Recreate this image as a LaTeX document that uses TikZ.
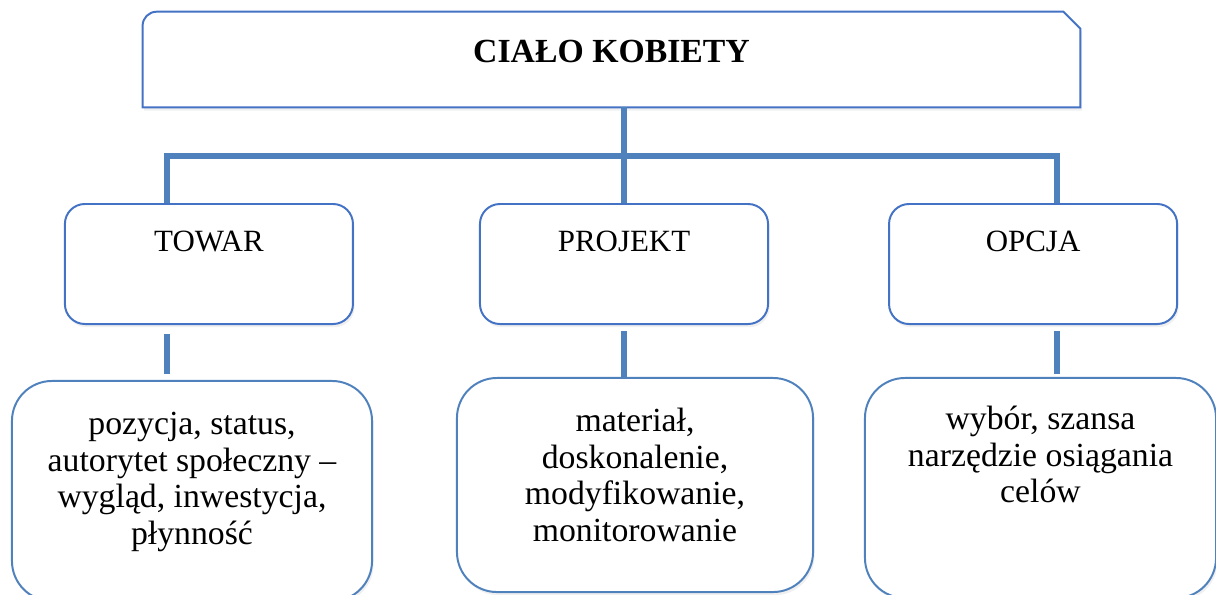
\documentclass[tikz,border=0pt]{standalone}
\usepackage{fontspec}
\setmainfont{Liberation Serif}
\usetikzlibrary{positioning, calc, shadows}
\definecolor{boxblue}{RGB}{68, 114, 196}
\definecolor{lineblue}{RGB}{79, 129, 189}
\tikzset{
  softshadow/.style={drop shadow={opacity=0.12, shadow xshift=0.04cm, shadow yshift=-0.08cm}},
  headblock/.style={rectangle, minimum width=23.425cm, minimum height=2.375cm, inner sep=0},
  headframe/.style={draw=boxblue, line width=1.4pt, fill=white, softshadow},
  midblock/.style={
    rectangle, rounded corners=0.5cm, draw=boxblue, line width=1.4pt, fill=white,
    softshadow, minimum width=7.2cm, minimum height=3cm, inner sep=0
  },
  leafblock/.style={
    rectangle, rounded corners=1cm, draw=lineblue, line width=1.4pt, fill=white,
    softshadow, inner sep=0
  },
  headtext/.style={font=\fontsize{24}{28}\selectfont\bfseries, anchor=base, inner sep=0},
  midtext/.style={font=\fontsize{22}{26}\selectfont, anchor=base, inner sep=0},
  leaftext/.style={font=\fontsize{24}{26.1}\selectfont, align=center, anchor=north, inner sep=0},
  linkline/.style={draw=lineblue, line width=4.3pt}
}
\begin{document}
\begin{tikzpicture}[x=0.025cm, y=0.025cm]
  \useasboundingbox (0,0) rectangle (1216,-594);

  % Top: whole body
  \node[headblock] (body) at (611.5,-59.5) {};
  \draw[headframe] (body.south west) -- ($(body.north west)+(0,-14)$)
    arc[start angle=180, end angle=90, radius=0.35cm]
    -- ($(body.north east)+(-17,0)$) -- ($(body.north east)+(0,-17)$)
    -- (body.south east) -- cycle;
  \node[headtext] (title) at ([yshift=-1.275cm]body.north) {CIAŁO KOBIETY};

  % Middle row
  \node[midblock] (projekt) at (624,-264) {};
  \node[midblock, left=3.125cm of projekt] (towar) {};
  \node[midblock, right=2.975cm of projekt] (opcja) {};
  \node[midtext] (towarlabel) at ([yshift=-1.2cm]towar.north) {TOWAR};
  \node[midtext] (projektlabel) at ([yshift=-1.2cm]projekt.north) {PROJEKT};
  \node[midtext] (opcjalabel) at ([yshift=-1.2cm]opcja.north) {OPCJA};

  % Bottom row
  \node[leafblock, minimum width=9cm, minimum height=5.5cm] (pozycja) at (192,-491) {};
  \node[leafblock, minimum width=8.9cm, minimum height=5.35cm] (material) at (635,-485) {};
  \node[leafblock, minimum width=8.775cm, minimum height=5.5cm] (wybor) at (1040.5,-488) {};
  \node[leaftext] (pozycjatext) at ([yshift=-0.71cm]pozycja.north)
    {\strut pozycja, status,\\ autorytet społeczny –\\ wygląd, inwestycja,\\ płynność};
  \node[leaftext] (materialtext) at ([yshift=-0.71cm]material.north)
    {\strut materiał,\\ doskonalenie,\\ modyfikowanie,\\ monitorowanie};
  \node[leaftext] (wybortext) at ([yshift=-0.66cm]wybor.north)
    {\strut wybór, szansa\\ narzędzie osiągania\\ celów};

  % Connectors
  \coordinate (busL) at (167,-156);
  \coordinate (busR) at (1057,-156);
  \draw[linkline] (body.south -| projekt.north) -- (projekt.north);
  \draw[linkline] (towar.north -| busL) -- (busL) -- (busR) -- (opcja.north -| busR);
  \draw[linkline, shorten <=0.22cm, shorten >=0.15cm] (towar.south -| busL) -- (pozycja.north -| busL);
  \draw[linkline, shorten <=0.15cm] (projekt.south) -- (projekt.south |- material.north);
  \draw[linkline, shorten <=0.15cm, shorten >=0.08cm] (opcja.south -| busR) -- (wybor.north -| busR);
\end{tikzpicture}
\end{document}
